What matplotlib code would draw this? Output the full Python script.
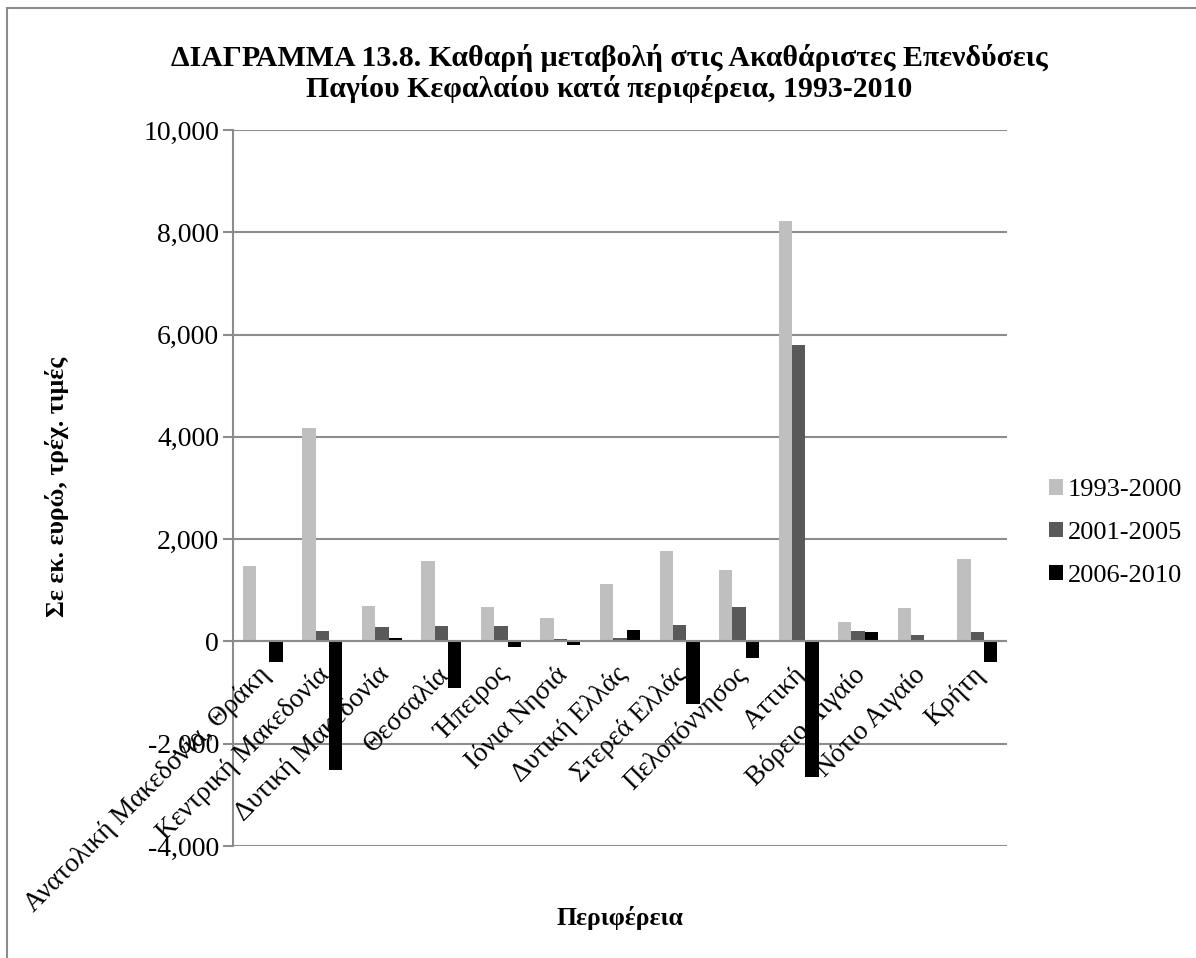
import matplotlib
matplotlib.use("Agg")
import matplotlib.pyplot as plt
import numpy as np
from matplotlib.ticker import FuncFormatter, MultipleLocator
from matplotlib.patches import Rectangle

regions = ["Ανατολική Μακεδονία, Θράκη", "Κεντρική Μακεδονία", "Δυτική Μακεδονία",
           "Θεσσαλία", "Ήπειρος", "Ιόνια Νησιά", "Δυτική Ελλάς", "Στερεά Ελλάς",
           "Πελοπόννησος", "Αττική", "Βόρειο Αιγαίο", "Νότιο Αιγαίο", "Κρήτη"]
series_names = ["1993-2000", "2001-2005", "2006-2010"]
v1993_2000 = [1470, 4176, 700, 1563, 674, 465, 1125, 1759, 1406, 8229, 380, 661, 1608]
v2001_2005 = [-20, 210, 275, 302, 308, 47, 67, 321, 674, 5804, 210, 131, 184]
v2006_2010 = [-400, -2522, 67, -914, -118, -70, 224, -1227, -320, -2647, 184, -10, -398]
colors = ["#BFBFBF", "#595959", "#000000"]

plt.rcParams['font.family'] = ['Liberation Serif', 'DejaVu Serif']

W, H = 1196, 958
fig = plt.figure(figsize=(W / 100, H / 100), dpi=100)
ax = fig.add_axes([233 / W, 1 - 846 / H, (1007 - 233) / W, (846 - 130) / H])

x = np.arange(len(regions))
bw = 0.224
for i, (vals, c, name) in enumerate(zip([v1993_2000, v2001_2005, v2006_2010], colors, series_names)):
    ax.bar(x + (i - 1) * bw, vals, width=bw, color=c, label=name, zorder=3)

ax.set_xlim(-0.5, len(regions) - 0.5)
ax.set_ylim(-4000, 10000)
ax.yaxis.set_major_locator(MultipleLocator(2000))
ax.yaxis.set_major_formatter(FuncFormatter(lambda v, p: f"{int(v):,}"))
ax.grid(axis='y', color='#8C8C8C', linewidth=1.5, zorder=0)
ax.axhline(0, color='#8C8C8C', linewidth=1.5, zorder=4)
for s in ['top', 'right', 'bottom']:
    ax.spines[s].set_visible(False)
ax.spines['left'].set_color('#8C8C8C')
ax.spines['left'].set_linewidth(1.5)
ax.tick_params(axis='y', colors='#8C8C8C', labelcolor='black', length=7, width=1.5,
               labelsize=20, pad=3)
ax.tick_params(axis='x', length=0)
ax.set_xticks([])

for xi, lab in zip(x, regions):
    ax.annotate(lab, xy=(xi, 0), xycoords='data', xytext=(-5, -21), textcoords='offset pixels',
                rotation=45, ha='right', va='top', rotation_mode='anchor', fontsize=19.5,
                zorder=5)

fig.text(609 / W, 1 - 58 / H, "ΔΙΑΓΡΑΜΜΑ 13.8. Καθαρή μεταβολή στις Ακαθάριστες Επενδύσεις",
         ha='center', va='center', fontsize=21.5, fontweight='bold')
fig.text(609 / W, 1 - 89 / H, "Παγίου Κεφαλαίου κατά περιφέρεια, 1993-2010",
         ha='center', va='center', fontsize=21.5, fontweight='bold')
fig.text(57 / W, 1 - 487 / H, "Σε εκ. ευρώ, τρέχ. τιμές", rotation=90,
         ha='center', va='center', fontsize=18.5, fontweight='bold')
fig.text(620 / W, 1 - 918 / H, "Περιφέρεια", ha='center', va='center',
         fontsize=18.5, fontweight='bold')

leg = fig.legend(loc='center left', bbox_to_anchor=(1038 / W, 1 - 533 / H), frameon=False,
                 fontsize=19, handlelength=0.53, handleheight=0.53, handletextpad=0.2,
                 labelspacing=0.78, borderaxespad=0)

fig.patches.append(Rectangle((7 / W, -0.1), 2, 1.1 - 8 / H, transform=fig.transFigure,
                             fill=False, edgecolor='#8C8C8C', linewidth=1.5))

fig.savefig("out.png", dpi=100)
